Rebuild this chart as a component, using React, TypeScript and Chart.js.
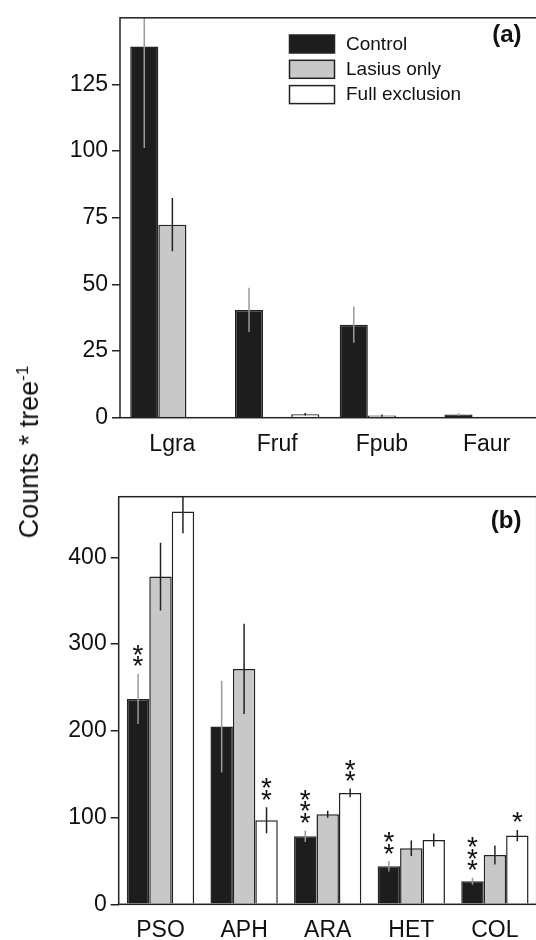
import React, { useEffect, useRef } from "react";
import { Chart, registerables } from "chart.js";
Chart.register(...registerables);

const FONT = "'Liberation Sans', Arial, Helvetica, sans-serif";

const SERIES = ["Control", "Lasius only", "Full exclusion"];

// Panel (a)
const CATS_A = ["Lgra", "Fruf", "Fpub", "Faur"];
const CONTROL_A = [139.2, 40.4, 34.9, 1.2];
const LASIUS_A = [72.4, 0.3, 0.8, 0];
const FULL_A = [0.3, 1.3, 0.3, 0];
const CONTROL_A_ERR = [38, 8.3, 6.8, 0.5];
const LASIUS_A_ERR = [10, 0, 0.4, 0];
const FULL_A_ERR = [0, 0.5, 0, 0];
const Y_TICKS_A = [0, 25, 50, 75, 100, 125];
const Y_MAX_A = 150;

// Panel (b)
const CATS_B = ["PSO", "APH", "ARA", "HET", "COL"];
const CONTROL_B = [236.8, 204.9, 78.4, 43.8, 26.5];
const LASIUS_B = [377.9, 271.4, 103.8, 64.6, 56.9];
const FULL_B = [452.8, 96.9, 128.4, 74.2, 79.2];
const CONTROL_B_ERR = [29, 53, 6.7, 6, 4];
const LASIUS_B_ERR = [39, 52, 4, 9, 11];
const FULL_B_ERR = [25, 15, 5, 7.5, 6.5];
const CONTROL_B_STARS = [2, 0, 3, 2, 3];
const LASIUS_B_STARS = [0, 0, 0, 0, 0];
const FULL_B_STARS = [0, 2, 2, 0, 1];
const Y_TICKS_B = [0, 100, 200, 300, 400];
const Y_MAX_B = 470;

const FILLS = ["#1d1d1d", "#c8c8c8", "#ffffff"];
const ERR_COLORS = ["#9a9a9a", "#222222", "#222222"];
const INK = "#222222";

const framePlugin = {
  id: "frame",
  afterDraw(chart: any) {
    const { ctx, chartArea: a } = chart;
    ctx.save();
    ctx.strokeStyle = INK;
    ctx.lineWidth = 1.5;
    ctx.strokeRect(a.left, a.top, a.right - a.left, a.bottom - a.top);
    ctx.restore();
  },
};

const errorPlugin = {
  id: "errbars",
  afterDatasetsDraw(chart: any) {
    const { ctx, chartArea: a } = chart;
    const ys = chart.scales.y;
    chart.data.datasets.forEach((ds: any, i: number) => {
      const meta = chart.getDatasetMeta(i);
      meta.data.forEach((el: any, j: number) => {
        const v = ds.data[j];
        const e = (ds.errors || [])[j] || 0;
        const top = ys.getPixelForValue(v + e);
        const bot = ys.getPixelForValue(v - e);
        if (e > 0) {
          ctx.save();
          ctx.beginPath();
          ctx.rect(a.left, a.top, a.right - a.left, a.bottom - a.top);
          ctx.clip();
          ctx.strokeStyle = ds.errColor;
          ctx.lineWidth = 1.5;
          ctx.beginPath();
          ctx.moveTo(el.x, top);
          ctx.lineTo(el.x, bot);
          ctx.stroke();
          ctx.restore();
        }
        const n = (ds.stars || [])[j] || 0;
        if (n > 0) {
          ctx.save();
          ctx.fillStyle = "#111";
          ctx.font = `28px ${FONT}`;
          ctx.textAlign = "center";
          ctx.textBaseline = "alphabetic";
          const m = ctx.measureText("*");
          const off = (m.actualBoundingBoxDescent - m.actualBoundingBoxAscent) / 2;
          for (let k = 0; k < n; k++) {
            const cy = top - 12.5 - k * 11.5;
            ctx.fillText("*", el.x, cy - off);
          }
          ctx.restore();
        }
      });
    });
  },
};

const labelPlugin = {
  id: "panelLabel",
  afterDraw(chart: any) {
    const o = chart.options.plugins.panelLabel;
    if (!o) return;
    const { ctx } = chart;
    ctx.save();
    ctx.fillStyle = "#111";
    ctx.font = `bold 24px ${FONT}`;
    ctx.textAlign = "right";
    ctx.textBaseline = "middle";
    ctx.fillText(o.text, o.x, o.y);
    ctx.restore();
  },
};

const legendPlugin = {
  id: "customLegend",
  afterDraw(chart: any) {
    const o = chart.options.plugins.customLegend;
    if (!o || !o.show) return;
    const { ctx } = chart;
    ctx.save();
    chart.data.datasets.forEach((ds: any, i: number) => {
      const y = 35 + i * 25.3;
      ctx.fillStyle = ds.backgroundColor;
      ctx.fillRect(289.5, y, 45, 18);
      ctx.strokeStyle = INK;
      ctx.lineWidth = 1.5;
      ctx.strokeRect(289.5, y, 45, 18);
      ctx.fillStyle = "#111";
      ctx.font = `19px ${FONT}`;
      ctx.textAlign = "left";
      ctx.textBaseline = "middle";
      ctx.fillText(ds.label, 346, y + 9.5);
    });
    ctx.restore();
  },
};

function makeConfig(p: any) {
  return {
    type: "bar",
    data: {
      labels: p.cats,
      datasets: p.series.map((d: number[], i: number) => ({
        label: SERIES[i],
        data: d,
        errors: p.errs[i],
        stars: p.stars ? p.stars[i] : null,
        errColor: ERR_COLORS[i],
        backgroundColor: FILLS[i],
        borderColor: INK,
        borderWidth: 1.5,
        categoryPercentage: 0.805,
        barPercentage: 1,
      })),
    },
    options: {
      responsive: false,
      animation: false,
      devicePixelRatio: 1,
      layout: { padding: { top: p.padTop, right: p.padRight, left: 0, bottom: 0 } },
      plugins: {
        legend: { display: false },
        tooltip: { enabled: false },
        panelLabel: { text: p.label, x: 521.5, y: p.labelY },
        customLegend: { show: p.legend },
      },
      scales: {
        x: {
          grid: { display: false, drawTicks: false },
          border: { display: false },
          ticks: { color: "#111", font: { family: FONT, size: 23 }, padding: 13, maxRotation: 0 },
          afterFit: (s: any) => {
            s.height = p.xHeight;
          },
        },
        y: {
          min: 0,
          max: p.ymax,
          afterBuildTicks: (s: any) => {
            s.ticks = p.yticks.map((v: number) => ({ value: v }));
          },
          grid: { drawOnChartArea: false, drawTicks: true, tickLength: 8, color: INK, lineWidth: 1.5 },
          border: { display: false },
          ticks: { color: "#111", font: { family: FONT, size: 23 }, padding: 4 },
          afterFit: (s: any) => {
            s.width = p.yWidth;
          },
        },
      },
    },
    plugins: [errorPlugin, framePlugin, labelPlugin, legendPlugin],
  };
}

function Panel(props: any) {
  const ref = useRef<HTMLCanvasElement | null>(null);
  useEffect(() => {
    if (!ref.current) return;
    const chart = new Chart(ref.current, makeConfig(props.cfg) as any);
    return () => chart.destroy();
  }, []);
  return (
    <canvas
      ref={ref}
      width={props.w}
      height={props.h}
      style={{ position: "absolute", left: 0, top: props.top, width: props.w, height: props.h }}
    />
  );
}

export default function App() {
  const cfgA = {
    cats: CATS_A,
    series: [CONTROL_A, LASIUS_A, FULL_A],
    errs: [CONTROL_A_ERR, LASIUS_A_ERR, FULL_A_ERR],
    stars: null,
    ymax: Y_MAX_A,
    yticks: Y_TICKS_A,
    padTop: 11,
    padRight: 6,
    xHeight: 42.3,
    yWidth: 120,
    label: "(a)",
    labelY: 35.5,
    legend: true,
  };
  const cfgB = {
    cats: CATS_B,
    series: [CONTROL_B, LASIUS_B, FULL_B],
    errs: [CONTROL_B_ERR, LASIUS_B_ERR, FULL_B_ERR],
    stars: [CONTROL_B_STARS, LASIUS_B_STARS, FULL_B_STARS],
    ymax: Y_MAX_B,
    yticks: Y_TICKS_B,
    padTop: 36.7,
    padRight: 8.3,
    xHeight: 35.7,
    yWidth: 118.7,
    label: "(b)",
    labelY: 61,
    legend: false,
  };
  return (
    <div
      style={{
        position: "absolute",
        left: 0,
        top: 0,
        width: 536,
        height: 940,
        overflow: "hidden",
        background: "#fff",
      }}
    >
      <Panel cfg={cfgA} w={545} h={460} top={0} />
      <Panel cfg={cfgB} w={545} h={480} top={460} />
      <div style={{ position: "absolute", left: 29, top: 452, width: 0, height: 0 }}>
        <div
          style={{
            position: "absolute",
            left: 0,
            top: 0,
            whiteSpace: "nowrap",
            fontFamily: FONT,
            fontSize: 27,
            color: "#111",
            lineHeight: "30px",
            transform: "translate(-50%, -50%) rotate(-90deg)",
          }}
        >
          Counts * tree<sup style={{ fontSize: 17, verticalAlign: "10px", lineHeight: 0 }}>-1</sup>
        </div>
      </div>
    </div>
  );
}
